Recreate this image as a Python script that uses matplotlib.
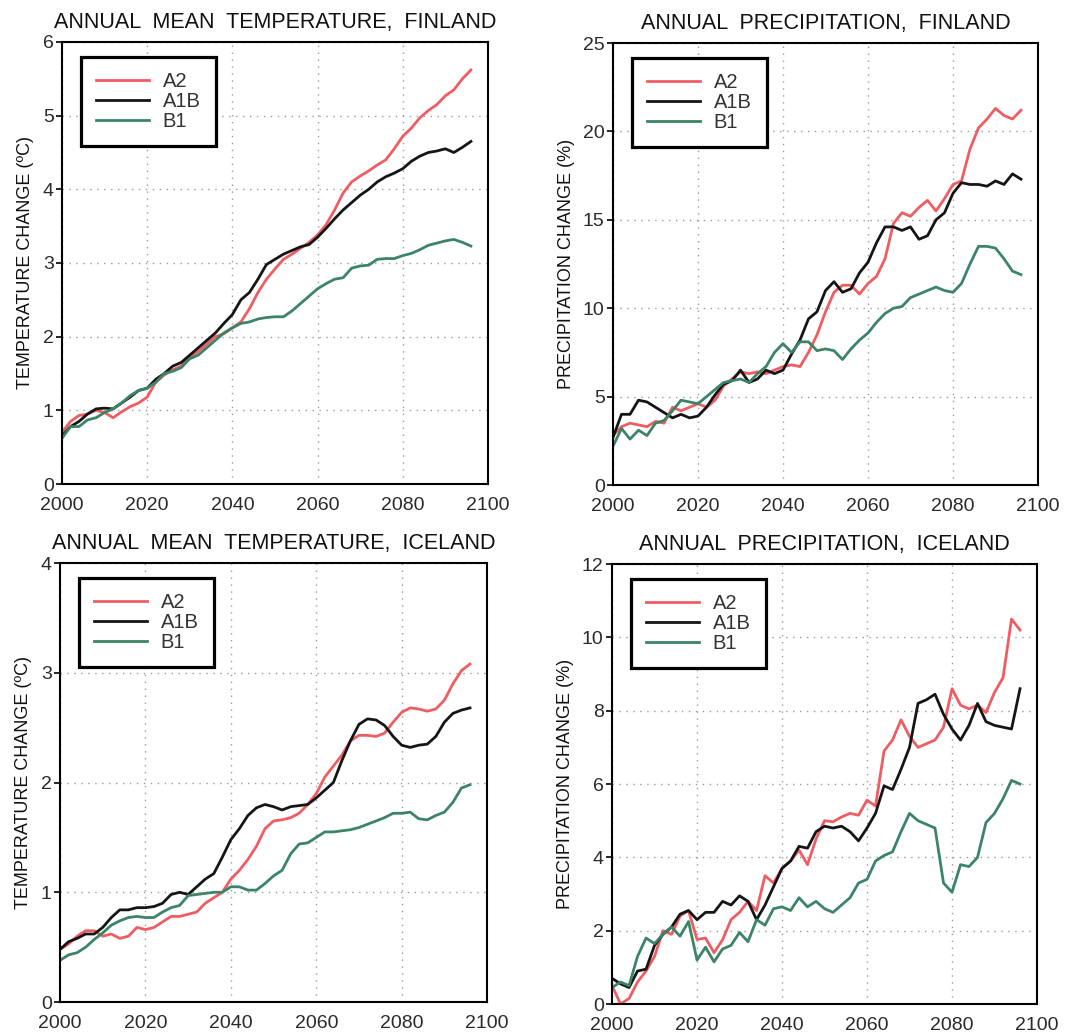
import numpy as np
import matplotlib
matplotlib.use("Agg")
import matplotlib.pyplot as plt

plt.rcParams['font.family'] = ['Liberation Sans', 'DejaVu Sans']

years = np.arange(2000, 2097, 2)
scenarios = ["A2", "A1B", "B1"]
colors = {"A2": "#ef5d63", "A1B": "#151515", "B1": "#3b8467"}

# Annual mean temperature, Finland (deg C)
fin_temp_a2 = [0.70, 0.85, 0.93, 0.95, 1.00, 0.97, 0.90, 0.98, 1.05, 1.10,
               1.18, 1.38, 1.48, 1.55, 1.60, 1.72, 1.80, 1.90, 2.00, 2.04,
               2.12, 2.20, 2.38, 2.60, 2.78, 2.92, 3.05, 3.12, 3.20, 3.28,
               3.38, 3.52, 3.72, 3.95, 4.10, 4.18, 4.25, 4.33, 4.40, 4.55,
               4.72, 4.83, 4.97, 5.07, 5.15, 5.27, 5.35, 5.50, 5.62]
fin_temp_a1b = [0.65, 0.78, 0.85, 0.95, 1.02, 1.03, 1.02, 1.10, 1.18, 1.27,
                1.30, 1.42, 1.50, 1.60, 1.65, 1.75, 1.85, 1.95, 2.05, 2.18,
                2.30, 2.50, 2.60, 2.78, 2.98, 3.05, 3.12, 3.17, 3.22, 3.25,
                3.35, 3.47, 3.60, 3.72, 3.82, 3.92, 4.00, 4.10, 4.17, 4.22,
                4.28, 4.38, 4.45, 4.50, 4.52, 4.55, 4.50, 4.57, 4.65]
fin_temp_b1 = [0.62, 0.78, 0.78, 0.87, 0.90, 0.97, 1.02, 1.10, 1.20, 1.27,
               1.30, 1.38, 1.50, 1.53, 1.58, 1.70, 1.75, 1.85, 1.95, 2.05,
               2.12, 2.18, 2.20, 2.24, 2.26, 2.27, 2.27, 2.35, 2.45, 2.55,
               2.65, 2.72, 2.78, 2.80, 2.93, 2.96, 2.97, 3.05, 3.06, 3.06,
               3.10, 3.13, 3.18, 3.24, 3.27, 3.30, 3.32, 3.28, 3.23]

# Annual precipitation, Finland (%)
fin_prec_a2 = [2.8, 3.3, 3.5, 3.4, 3.3, 3.6, 3.5, 4.4, 4.2, 4.4,
               4.6, 4.4, 4.8, 5.6, 6.0, 6.4, 6.3, 6.4, 6.3, 6.5,
               6.7, 6.8, 6.7, 7.5, 8.5, 9.8, 10.9, 11.3, 11.3, 10.8,
               11.4, 11.8, 12.8, 14.8, 15.4, 15.2, 15.7, 16.1, 15.5, 16.2,
               17.0, 17.2, 19.0, 20.2, 20.7, 21.3, 20.9, 20.7, 21.2]
fin_prec_a1b = [2.7, 4.0, 4.0, 4.8, 4.7, 4.4, 4.1, 3.8, 4.0, 3.8,
                3.9, 4.4, 5.1, 5.7, 5.9, 6.5, 5.8, 6.0, 6.5, 6.3,
                6.5, 7.4, 8.2, 9.4, 9.8, 11.0, 11.5, 10.9, 11.1, 12.0,
                12.6, 13.7, 14.6, 14.6, 14.4, 14.6, 13.9, 14.1, 15.0, 15.4,
                16.5, 17.1, 17.0, 17.0, 16.9, 17.2, 17.0, 17.6, 17.3]
fin_prec_b1 = [2.2, 3.2, 2.6, 3.1, 2.8, 3.5, 3.65, 4.2, 4.8, 4.7,
               4.6, 5.0, 5.4, 5.8, 5.9, 6.0, 5.8, 6.3, 6.7, 7.5,
               8.0, 7.5, 8.1, 8.1, 7.6, 7.7, 7.6, 7.1, 7.7, 8.2,
               8.6, 9.2, 9.7, 10.0, 10.1, 10.6, 10.8, 11.0, 11.2, 11.0,
               10.9, 11.4, 12.5, 13.5, 13.5, 13.4, 12.8, 12.1, 11.9]

# Annual mean temperature, Iceland (deg C)
ice_temp_a2 = [0.48, 0.53, 0.60, 0.65, 0.65, 0.60, 0.62, 0.58, 0.60, 0.68,
               0.66, 0.68, 0.73, 0.78, 0.78, 0.80, 0.82, 0.90, 0.95, 1.00,
               1.12, 1.20, 1.30, 1.42, 1.58, 1.65, 1.66, 1.68, 1.72, 1.80,
               1.90, 2.05, 2.15, 2.25, 2.38, 2.43, 2.43, 2.42, 2.45, 2.55,
               2.64, 2.68, 2.67, 2.65, 2.67, 2.75, 2.90, 3.02, 3.08]
ice_temp_a1b = [0.48, 0.55, 0.58, 0.62, 0.62, 0.68, 0.77, 0.84, 0.84, 0.86,
                0.86, 0.87, 0.90, 0.98, 1.00, 0.98, 1.05, 1.12, 1.17, 1.32,
                1.48, 1.58, 1.70, 1.77, 1.80, 1.78, 1.75, 1.78, 1.79, 1.80,
                1.86, 1.93, 2.00, 2.20, 2.38, 2.53, 2.58, 2.57, 2.52, 2.42,
                2.34, 2.32, 2.34, 2.35, 2.42, 2.55, 2.63, 2.66, 2.68]
ice_temp_b1 = [0.38, 0.43, 0.45, 0.50, 0.57, 0.63, 0.70, 0.74, 0.77, 0.78,
               0.77, 0.77, 0.82, 0.86, 0.88, 0.97, 0.98, 0.99, 1.00, 1.00,
               1.05, 1.05, 1.02, 1.02, 1.08, 1.15, 1.20, 1.35, 1.44, 1.45,
               1.50, 1.55, 1.55, 1.56, 1.57, 1.59, 1.62, 1.65, 1.68, 1.72,
               1.72, 1.73, 1.67, 1.66, 1.70, 1.73, 1.82, 1.95, 1.98]

# Annual precipitation, Iceland (%)
ice_prec_a2 = [0.5, 0.0, 0.15, 0.6, 0.9, 1.3, 2.0, 1.9, 2.4, 2.55,
               1.76, 1.8, 1.4, 1.75, 2.3, 2.5, 2.8, 2.55, 3.5, 3.3,
               3.7, 3.9, 4.2, 3.8, 4.5, 5.0, 4.97, 5.1, 5.2, 5.15,
               5.56, 5.4, 6.9, 7.2, 7.75, 7.3, 7.0, 7.1, 7.2, 7.55,
               8.6, 8.15, 8.05, 8.15, 7.95, 8.5, 8.9, 10.5, 10.2]
ice_prec_a1b = [0.7, 0.55, 0.45, 0.9, 0.95, 1.6, 1.9, 2.1, 2.45, 2.55,
                2.3, 2.5, 2.5, 2.8, 2.7, 2.95, 2.8, 2.3, 2.7, 3.2,
                3.7, 3.9, 4.3, 4.25, 4.7, 4.85, 4.8, 4.85, 4.7, 4.45,
                4.8, 5.2, 5.95, 5.85, 6.4, 7.0, 8.2, 8.3, 8.45, 7.9,
                7.5, 7.2, 7.6, 8.2, 7.7, 7.6, 7.55, 7.5, 8.6]
ice_prec_b1 = [0.45, 0.6, 0.5, 1.3, 1.8, 1.65, 1.9, 2.1, 1.85, 2.25,
               1.2, 1.55, 1.15, 1.5, 1.6, 1.95, 1.7, 2.3, 2.15, 2.6,
               2.65, 2.55, 2.9, 2.65, 2.8, 2.6, 2.5, 2.7, 2.9, 3.3,
               3.4, 3.9, 4.05, 4.15, 4.7, 5.2, 5.0, 4.9, 4.8, 3.3,
               3.05, 3.8, 3.75, 4.0, 4.95, 5.2, 5.6, 6.1, 6.0]

panels = [
    ("ANNUAL  MEAN  TEMPERATURE,  FINLAND", "TEMPERATURE CHANGE (\u00baC)", 6, 1,
     [fin_temp_a2, fin_temp_a1b, fin_temp_b1], [0.0574, 0.5319, 0.3944, 0.4275]),
    ("ANNUAL  PRECIPITATION,  FINLAND", "PRECIPITATION CHANGE (%)", 25, 5,
     [fin_prec_a2, fin_prec_a1b, fin_prec_b1], [0.5676, 0.5309, 0.3935, 0.4275]),
    ("ANNUAL  MEAN  TEMPERATURE,  ICELAND", "TEMPERATURE CHANGE (\u00baC)", 4, 1,
     [ice_temp_a2, ice_temp_a1b, ice_temp_b1], [0.0556, 0.0309, 0.3954, 0.4246]),
    ("ANNUAL  PRECIPITATION,  ICELAND", "PRECIPITATION CHANGE (%)", 12, 2,
     [ice_prec_a2, ice_prec_a1b, ice_prec_b1], [0.5667, 0.0290, 0.3935, 0.4255]),
]

fig = plt.figure(figsize=(10.8, 10.34), dpi=100)

for title, ylabel, ymax, ystep, series, rect in panels:
    ax = fig.add_axes(rect)
    for name, vals in zip(scenarios, series):
        ax.plot(years, vals, color=colors[name], lw=2.0, label=name)
    ax.set_xlim(2000, 2100)
    ax.set_ylim(0, ymax)
    ax.set_xticks(np.arange(2000, 2101, 20))
    ax.set_yticks(np.arange(0, ymax + 0.1, ystep))
    ax.grid(True, color="#999999", linestyle=(0, (1, 4)), lw=1.0)
    ax.tick_params(axis="y", direction="out", length=4, width=1.2, pad=2)
    ax.tick_params(axis="x", length=0, pad=9)
    ax.tick_params(labelsize=14, labelcolor="#2a2a2a")
    for sp in ax.spines.values():
        sp.set_linewidth(1.5)
    ax.set_title(title, fontsize=15.5, pad=10, color="#111111")
    ax.set_ylabel(ylabel, fontsize=13, labelpad=6, color="#111111")
    leg = ax.legend(loc="upper left", bbox_to_anchor=(0.045, 0.966),
                    fontsize=14.5, frameon=True, fancybox=False, framealpha=1,
                    handlelength=2.6, handletextpad=0.7, labelspacing=0.05,
                    borderpad=0.75, borderaxespad=0.0)
    leg.get_frame().set_edgecolor("black")
    leg.get_frame().set_linewidth(2.3)
    for t in leg.get_texts():
        t.set_color("#333333")

fig.savefig("out.png", dpi=100)
